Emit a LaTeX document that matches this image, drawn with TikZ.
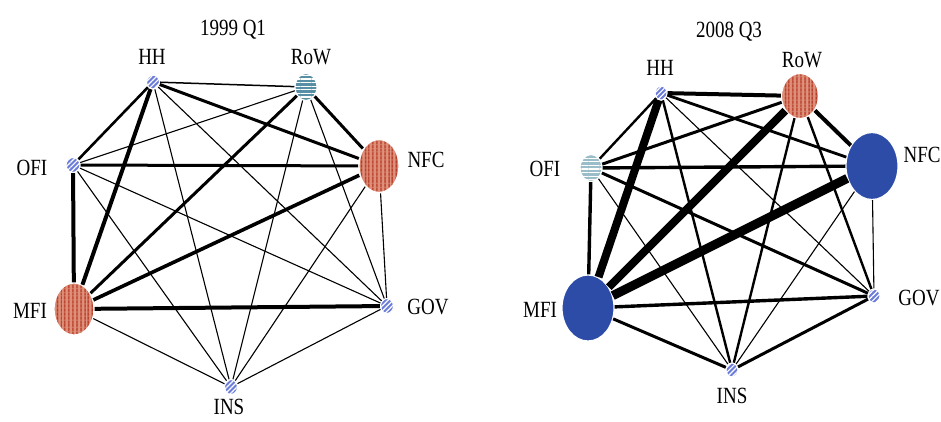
\documentclass[tikz,border=0pt]{standalone}
\usepackage{fontspec}
\setmainfont{Liberation Serif}
\usepackage{tikz}
\usetikzlibrary{shapes.geometric}
\usetikzlibrary{patterns.meta}

\definecolor{hatchblue}{HTML}{6B7DD8}
\definecolor{sectred}{HTML}{B33520}
\definecolor{sectpink}{HTML}{DE8F79}
\definecolor{sectteal}{HTML}{5790A4}
\definecolor{sectpale}{HTML}{9BBDC9}
\definecolor{sectblue}{HTML}{2D4CA8}

% taller letters, as in the scanned figure
\newcommand{\tallt}[1]{\scalebox{1}[1.22]{#1}}

\begin{document}
\begin{tikzpicture}[x=1pt, y=-1pt,
        sect/.style={ellipse, draw=white, line width=1.2pt, inner sep=0pt},
        hatch/.style={sect, preaction={fill=hatchblue}, pattern={Lines[angle=45, distance=3.5pt, line width=1.2pt]}, pattern color=white},
        redvert/.style={sect, preaction={fill=sectpink}, pattern={Lines[angle=90, distance=4pt, line width=2pt]}, pattern color=sectred},
        tealhor/.style={sect, preaction={fill=sectteal}, pattern={Lines[angle=0, distance=3.6pt, line width=1.2pt]}, pattern color=white},
        palehor/.style={sect, preaction={fill=sectpale}, pattern={Lines[angle=0, distance=3.6pt, line width=1.2pt]}, pattern color=white},
        solidblue/.style={sect, fill=sectblue},
        lab/.style={font=\fontsize{19}{22}\selectfont, inner sep=0pt, text height=15.4pt, text depth=0pt}]
    \useasboundingbox (0,0) rectangle (941,421);

    % 1999 Q1
    \node[lab] (Ltitle) at (233,28) {\tallt{1999 Q1}};
    \foreach \n/\x/\y/\w/\h/\s in {HH/153/82/13/14/hatch, RoW/306/87/22/27/tealhor,
        NFC/379/166/40/53/redvert, OFI/73/165/14/15/hatch, MFI/74/309/40/52/redvert,
        GOV/387/306/13/15/hatch, INS/231/387/13/15/hatch}
    {
        \node[\s, minimum width=\w pt, minimum height=\h pt] (L\n) at (\x,\y) {};
    }
    \foreach \n/\x/\y in {HH/152/57, RoW/311/57, NFC/426/160, OFI/32/168,
        MFI/30/311, GOV/428/307, INS/229/407}
        \node[lab] (L\n-t) at (\x,\y) {\tallt{\n}};
    \foreach \a/\b/\w in {HH/RoW/1.5, HH/NFC/3, HH/OFI/2.6, HH/MFI/4, HH/INS/1.1, HH/GOV/1.1,
        RoW/OFI/1.1, RoW/NFC/3, RoW/MFI/3, RoW/INS/1.1, RoW/GOV/1.1,
        OFI/NFC/3, OFI/MFI/4, OFI/GOV/1.1, OFI/INS/1.1,
        NFC/MFI/3.6, NFC/GOV/1.1, NFC/INS/1.1,
        MFI/GOV/4, MFI/INS/1.1, GOV/INS/1.1}
        \draw[line width=\w pt] (L\a) -- (L\b);

    % 2008 Q3
    \node[lab] (Rtitle) at (729,30) {\tallt{2008 Q3}};
    \foreach \n/\x/\y/\w/\h/\s in {HH/661/93/12/14/hatch, RoW/800/96/37/45/redvert,
        NFC/872/166/52/67/solidblue, OFI/591/168/22/27/palehor, MFI/588/308/52/66/solidblue,
        GOV/874/296/12/14/hatch, INS/732/370/12/14/hatch}
    {
        \node[\s, minimum width=\w pt, minimum height=\h pt] (R\n) at (\x,\y) {};
    }
    \foreach \n/\x/\y in {HH/660/68, RoW/802/60, NFC/922/155, OFI/545/169,
        MFI/540/310, GOV/919/298, INS/732/396}
        \node[lab] (R\n-t) at (\x,\y) {\tallt{\n}};
    \foreach \a/\b/\w in {HH/RoW/4, HH/NFC/2.8, HH/OFI/2.4, HH/MFI/8, HH/INS/2.4, HH/GOV/1.1,
        RoW/OFI/3, RoW/NFC/4, RoW/MFI/8, RoW/INS/2.4, RoW/GOV/2.4,
        OFI/NFC/3.4, OFI/MFI/3.4, OFI/GOV/3, OFI/INS/1.1,
        NFC/MFI/9, NFC/GOV/1.1, NFC/INS/1.1,
        MFI/GOV/3.4, MFI/INS/3, GOV/INS/3}
        \draw[line width=\w pt] (R\a) -- (R\b);
\end{tikzpicture}
\end{document}
